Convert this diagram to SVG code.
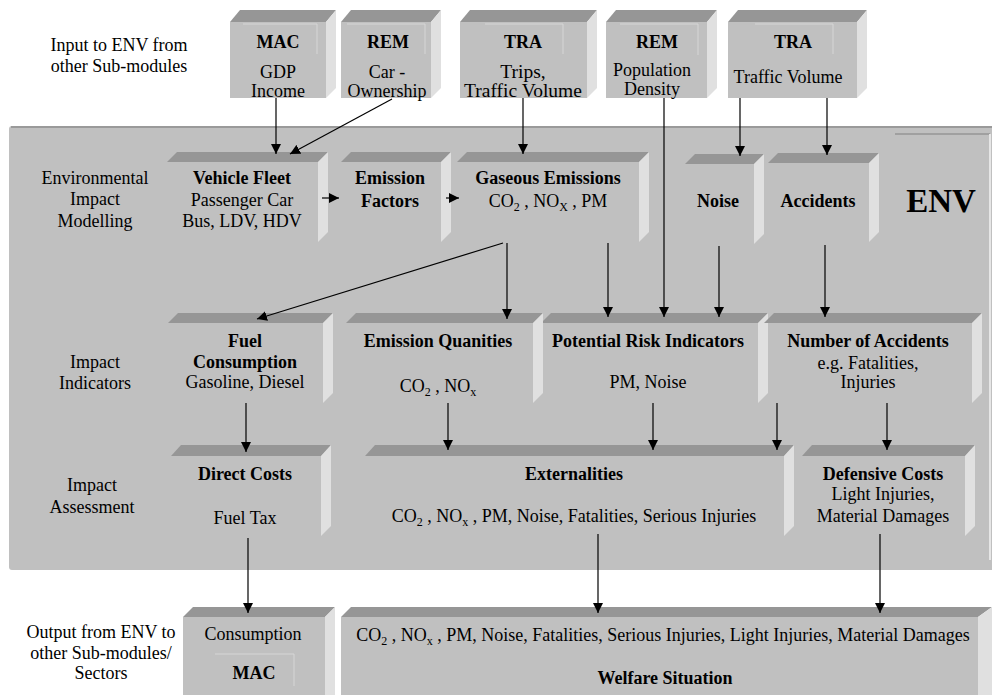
<svg xmlns="http://www.w3.org/2000/svg" width="992" height="695" viewBox="0 0 992 695">
<defs>
<marker id="ah" markerUnits="userSpaceOnUse" markerWidth="10" markerHeight="10" refX="10" refY="5" orient="auto">
<path d="M0,0 L10,5 L0,10 z" fill="#000"/>
</marker>
<style>
text{font-family:'Liberation Serif','Times New Roman',Times,serif;font-size:18px;text-anchor:middle;fill:#000}
.b{font-weight:bold}
.s{font-size:12px}
.front{fill:#c0c0c0}
.top{fill:#969696}
.side{fill:#e0e0e0}
.inner{fill:none;stroke:#d6d6d6;stroke-width:1}
.c{stroke:#000;stroke-width:1.2;fill:none;marker-end:url(#ah)}
</style>
</defs>
<rect width="992" height="695" fill="#fff"/>

<!-- ENV panel -->
<g id="env-panel">
<rect x="9" y="126" width="990" height="444" rx="3" fill="#c0c0c0"/>
<path d="M11,127 H992" stroke="#9a9a9a" stroke-width="2"/>
<path d="M895,134 H990" stroke="#a0a0a0" stroke-width="2"/>
<path d="M990,134 V560" stroke="#e6e6e6" stroke-width="2"/>
<text class="b" x="941" y="212" style="font-size:33px">ENV</text>
</g>

<!-- Row labels -->
<g id="labels">
<text x="119" y="51">Input to ENV from</text>
<text x="119" y="72">other Sub-modules</text>
<text x="95" y="184">Environmental</text>
<text x="95" y="205">Impact</text>
<text x="95" y="227">Modelling</text>
<text x="95" y="368">Impact</text>
<text x="95" y="389">Indicators</text>
<text x="92" y="491">Impact</text>
<text x="92" y="513">Assessment</text>
<text x="101" y="638">Output from ENV to</text>
<text x="101" y="659">other Sub-modules/</text>
<text x="101" y="679">Sectors</text>
</g>

<!-- Input boxes -->
<g id="in-mac">
<rect class="front" x="230" y="22" width="96" height="76"/>
<polygon class="top" points="230,22 240,10 336,10 326,22"/>
<polygon class="side" points="326,22 336,10 336,88 326,98"/>
<path class="inner" d="M243,24 H317 V54"/>
<text class="b" x="278" y="48">MAC</text>
<text x="278" y="78">GDP</text>
<text x="278" y="97">Income</text>
</g>
<g id="in-rem1">
<rect class="front" x="341" y="22" width="90" height="76"/>
<polygon class="top" points="341,22 351,10 441,10 431,22"/>
<polygon class="side" points="431,22 441,10 441,88 431,98"/>
<path class="inner" d="M347,24 H425 V54"/>
<text class="b" x="388" y="48">REM</text>
<text x="387" y="78">Car -</text>
<text x="387" y="97">Ownership</text>
</g>
<g id="in-tra1">
<rect class="front" x="460" y="22" width="127" height="76"/>
<polygon class="top" points="460,22 470,10 597,10 587,22"/>
<polygon class="side" points="587,22 597,10 597,88 587,98"/>
<path class="inner" d="M485,24 H563 V54"/>
<text class="b" x="523" y="48">TRA</text>
<text x="523" y="78" style="font-size:19.5px">Trips,</text>
<text x="523" y="97" style="font-size:19.5px">Traffic Volume</text>
</g>
<g id="in-rem2">
<rect class="front" x="606" y="22" width="101" height="76"/>
<polygon class="top" points="606,22 616,10 717,10 707,22"/>
<polygon class="side" points="707,22 717,10 717,88 707,98"/>
<path class="inner" d="M620,24 H698 V55"/>
<text class="b" x="657" y="48">REM</text>
<text x="652" y="76">Population</text>
<text x="652" y="95">Density</text>
</g>
<g id="in-tra2">
<rect class="front" x="728" y="22" width="129" height="76"/>
<polygon class="top" points="728,22 738,10 867,10 857,22"/>
<polygon class="side" points="857,22 867,10 867,88 857,98"/>
<path class="inner" d="M755,24 H833 V54"/>
<text class="b" x="793" y="48">TRA</text>
<text x="788" y="83">Traffic Volume</text>
</g>

<!-- Row 1 -->
<g id="vehicle-fleet">
<polygon class="top" points="167,162 177,152 328,152 318,162"/>
<polygon class="side" points="318,162 328,152 328,232 318,242"/>
<text class="b" x="242" y="184">Vehicle Fleet</text>
<text x="242" y="206">Passenger Car</text>
<text x="242" y="227">Bus, LDV, HDV</text>
</g>
<g id="emission-factors">
<polygon class="top" points="341,162 351,152 451,152 441,162"/>
<polygon class="side" points="441,162 451,152 451,232 441,242"/>
<text class="b" x="390" y="184">Emission</text>
<text class="b" x="390" y="207">Factors</text>
</g>
<g id="gaseous-emissions">
<polygon class="top" points="457,162 467,152 649,152 639,162"/>
<polygon class="side" points="639,162 649,152 649,232 639,242"/>
<text class="b" x="548" y="184">Gaseous Emissions</text>
<text x="548" y="207">CO<tspan class="s" dy="4">2</tspan><tspan dy="-4"> , NO</tspan><tspan class="s" dy="4">X</tspan><tspan dy="-4"> , PM</tspan></text>
</g>
<g id="noise">
<polygon class="top" points="685,164 695,154 764,154 754,164"/>
<polygon class="side" points="754,164 764,154 764,234 754,244"/>
<text class="b" x="718" y="207">Noise</text>
</g>
<g id="accidents">
<polygon class="top" points="768,163 778,153 879,153 869,163"/>
<polygon class="side" points="869,163 879,153 879,232 869,242"/>
<text class="b" x="818" y="207">Accidents</text>
</g>

<!-- Row 2 -->
<g id="fuel-consumption">
<polygon class="top" points="168,323 178,313 333,313 323,323"/>
<polygon class="side" points="323,323 333,313 333,393 323,403"/>
<text class="b" x="245" y="347">Fuel</text>
<text class="b" x="245" y="368">Consumption</text>
<text x="245" y="388">Gasoline, Diesel</text>
</g>
<g id="potential-risk">
<polygon class="top" points="541,323 551,313 768,313 758,323"/>
<polygon class="side" points="758,323 768,313 768,393 758,403"/>
<text class="b" x="648" y="347">Potential Risk Indicators</text>
<text x="648" y="388">PM, Noise</text>
</g>
<g id="emission-quantities">
<polygon class="top" points="346,323 356,313 543,313 533,323"/>
<polygon class="side" points="533,323 543,313 543,393 533,403"/>
<text class="b" x="438" y="347">Emission Quanities</text>
<text x="438" y="392">CO<tspan class="s" dy="4">2</tspan><tspan dy="-4"> , NO</tspan><tspan class="s" dy="4">x</tspan></text>
</g>
<g id="number-of-accidents">
<polygon class="top" points="764,323 774,313 982,313 972,323"/>
<polygon class="side" points="972,323 982,313 982,393 972,403"/>
<text class="b" x="868" y="347">Number of Accidents</text>
<text x="868" y="369">e.g. Fatalities,</text>
<text x="868" y="388">Injuries</text>
</g>

<!-- Row 3 -->
<g id="direct-costs">
<polygon class="top" points="171,456 181,445 331,445 321,456"/>
<polygon class="side" points="321,456 331,445 331,526 321,536"/>
<text class="b" x="245" y="480">Direct Costs</text>
<text x="245" y="524">Fuel Tax</text>
</g>
<g id="externalities">
<polygon class="top" points="365,456 375,445 794,445 784,456"/>
<polygon class="side" points="784,456 794,445 794,526 784,536"/>
<text class="b" x="574" y="480">Externalities</text>
<text x="574" y="522">CO<tspan class="s" dy="4">2</tspan><tspan dy="-4"> , NO</tspan><tspan class="s" dy="4">x</tspan><tspan dy="-4"> , PM, Noise, Fatalities, Serious Injuries</tspan></text>
</g>
<g id="defensive-costs">
<polygon class="top" points="802,456 812,445 975,445 965,456"/>
<polygon class="side" points="965,456 975,445 975,526 965,536"/>
<text class="b" x="883" y="480">Defensive Costs</text>
<text x="883" y="500">Light Injuries,</text>
<text x="883" y="522">Material Damages</text>
</g>

<!-- Output boxes -->
<g id="out-mac">
<rect class="front" x="183" y="617" width="142" height="78"/>
<polygon class="top" points="183,617 193,607 335,607 325,617"/>
<polygon class="side" points="325,617 335,607 335,695 325,695"/>
<path class="inner" d="M215,654 H294 V686"/>
<text x="253" y="640">Consumption</text>
<text class="b" x="254" y="679">MAC</text>
</g>
<g id="out-welfare">
<rect class="front" x="341" y="617" width="637" height="78"/>
<polygon class="top" points="341,617 351,607 992,607 978,617"/>
<polygon class="side" points="978,617 992,607 992,695 978,695"/>
<text x="663" y="641">CO<tspan class="s" dy="4">2</tspan><tspan dy="-4"> , NO</tspan><tspan class="s" dy="4">x</tspan><tspan dy="-4"> , PM, Noise, Fatalities, Serious Injuries, Light Injuries, Material Damages</tspan></text>
<text class="b" x="665" y="684">Welfare Situation</text>
</g>

<!-- Connectors -->
<g id="connectors">
<line class="c" x1="276" y1="98" x2="276" y2="154"/>
<line class="c" x1="392" y1="99" x2="290" y2="154"/>
<line class="c" x1="523" y1="98" x2="523" y2="154"/>
<line class="c" x1="664" y1="98" x2="664" y2="317"/>
<line class="c" x1="740" y1="98" x2="740" y2="156"/>
<line class="c" x1="827" y1="98" x2="827" y2="155"/>
<line class="c" x1="322" y1="198" x2="339" y2="198"/>
<line class="c" x1="446" y1="198" x2="459" y2="198"/>
<line class="c" x1="503" y1="243" x2="257" y2="319"/>
<line class="c" x1="507" y1="243" x2="507" y2="319"/>
<line class="c" x1="608" y1="243" x2="608" y2="317"/>
<line class="c" x1="719" y1="246" x2="719" y2="317"/>
<line class="c" x1="825" y1="245" x2="825" y2="317"/>
<line class="c" x1="246" y1="403" x2="246" y2="452"/>
<line class="c" x1="448" y1="403" x2="448" y2="450"/>
<line class="c" x1="653" y1="403" x2="653" y2="450"/>
<line class="c" x1="777" y1="403" x2="777" y2="450"/>
<line class="c" x1="887" y1="403" x2="887" y2="450"/>
<line class="c" x1="248" y1="538" x2="248" y2="613"/>
<line class="c" x1="598" y1="534" x2="598" y2="613"/>
<line class="c" x1="880" y1="534" x2="880" y2="613"/>
</g>
</svg>
